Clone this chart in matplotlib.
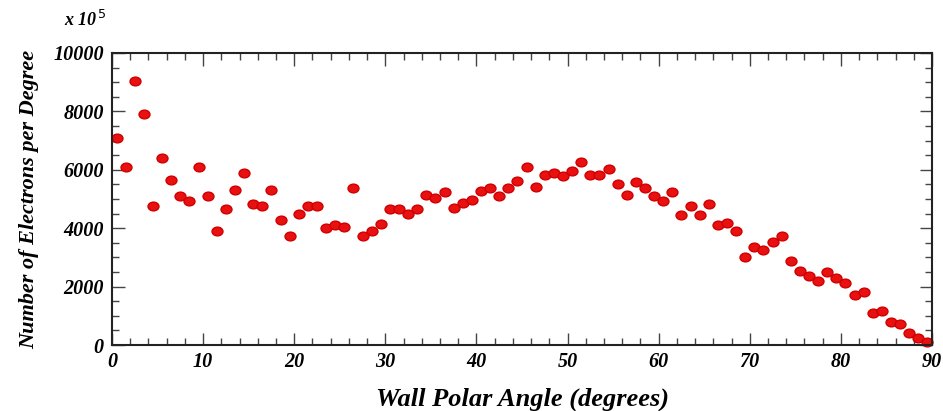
import matplotlib
matplotlib.use("Agg")
import matplotlib.pyplot as plt
from matplotlib.ticker import MultipleLocator
from matplotlib.markers import MarkerStyle
from matplotlib.transforms import Affine2D

angle = [i + 0.5 for i in range(90)]
electrons = [
    7100, 6100, 9040, 7910, 4760, 6400, 5650, 5100, 4930, 6100,
    5100, 3900, 4660, 5300, 5890, 4830, 4760, 5300, 4280, 3730,
    4490, 4760, 4760, 4000, 4110, 4040, 5380, 3730, 3900, 4140,
    4660, 4660, 4490, 4660, 5140, 5030, 5240, 4700, 4860, 4970,
    5270, 5380, 5100, 5380, 5620, 6100, 5410, 5820, 5890, 5790,
    5960, 6270, 5820, 5820, 6030, 5510, 5140, 5580, 5380, 5100,
    4930, 5240, 4450, 4760, 4450, 4830, 4110, 4180, 3900, 3010,
    3360, 3250, 3530, 3730, 2880, 2530, 2360, 2190, 2500, 2290,
    2120, 1710, 1820, 1100, 1160, 790, 720, 410, 240, 100,
]

font = {"family": "Liberation Serif", "weight": "bold", "style": "italic"}

fig = plt.figure(figsize=(9.43, 4.11), dpi=100)
ax = fig.add_axes([112 / 943, 1 - 345 / 411, 820 / 943, 292 / 411])

# the original looks stretched sideways, so the dots are slightly oval
dot = MarkerStyle("o", transform=Affine2D().scale(1.25, 1.0))
ax.plot(angle, electrons, linestyle="none", marker=dot, color="#e81010",
        markeredgecolor="#d00000", markersize=6.3, clip_on=False)

ax.set_xlim(0, 90)
ax.set_ylim(0, 10000)
ax.xaxis.set_major_locator(MultipleLocator(10))
ax.xaxis.set_minor_locator(MultipleLocator(2))
ax.yaxis.set_major_locator(MultipleLocator(2000))
ax.yaxis.set_minor_locator(MultipleLocator(500))
ax.tick_params(which="both", direction="in", top=True, right=True, width=1, colors="#444444")
ax.tick_params(which="major", length=9)
ax.tick_params(which="minor", length=5)
for lbl in ax.get_xticklabels() + ax.get_yticklabels():
    lbl.set_fontfamily("Liberation Serif")
    lbl.set_fontweight("bold")
    lbl.set_fontstyle("italic")
    lbl.set_fontsize(14.5)
    lbl.set_color("black")
ax.tick_params(axis="x", pad=5)
ax.tick_params(axis="y", pad=6)
for s in ax.spines.values():
    s.set_linewidth(1.5)
    s.set_color("#222222")

ax.set_xlabel("Wall Polar Angle (degrees)", fontsize=19, labelpad=11, **font)
ax.set_ylabel("Number of Electrons per Degree", fontsize=16, labelpad=10, **font)
fig.text(85 / 943, 1 - 20 / 411, "x 10$^{\\,5}$", fontsize=13, ha="center", va="center", **font)

fig.savefig("out.png", dpi=100)
